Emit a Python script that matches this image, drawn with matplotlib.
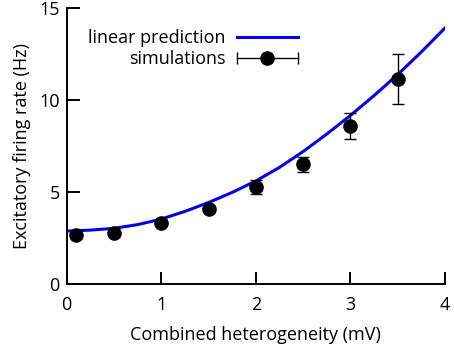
import matplotlib.pyplot as plt
from matplotlib.lines import Line2D
from matplotlib.legend_handler import HandlerLine2D

# Simulation points
sim_x = [0.1, 0.5, 1.0, 1.5, 2.0, 2.5, 3.0, 3.5]
sim_rate = [2.66, 2.81, 3.35, 4.08, 5.29, 6.52, 8.60, 11.16]
sim_err = [0.1, 0.1, 0.12, 0.15, 0.40, 0.41, 0.72, 1.38]

# Linear prediction curve
pred_x = [0.0, 0.25, 0.5, 0.75, 1.0, 1.25, 1.5, 1.75, 2.0, 2.25, 2.5, 2.75,
          3.0, 3.25, 3.5, 3.75, 4.0]
pred_rate = [2.90, 2.95, 3.05, 3.25, 3.55, 3.97, 4.45, 5.00, 5.62, 6.36, 7.22,
             8.17, 9.18, 10.26, 11.40, 12.63, 13.93]

plt.rcParams['font.family'] = ['Open Sans', 'DejaVu Sans']

fig = plt.figure(figsize=(4.54, 3.49), dpi=100)
ax = fig.add_axes([0.147, 0.185, 0.833, 0.791])

ax.plot(pred_x, pred_rate, color='#0000ee', lw=2.2, zorder=3)
ax.errorbar(sim_x, sim_rate, yerr=sim_err, fmt='o', color='black', ms=9.5,
            elinewidth=1, capsize=4.5, capthick=1, zorder=4)

ax.set_xlim(0, 4)
ax.set_ylim(0, 15)
ax.set_xticks([0, 1, 2, 3, 4])
ax.set_yticks([0, 5, 10, 15])
ax.spines['top'].set_visible(False)
ax.spines['right'].set_visible(False)
for s in ['left', 'bottom']:
    ax.spines[s].set_linewidth(1.4)
ax.tick_params(direction='in', length=9, width=1.4, labelsize=13)
ax.tick_params(axis='x', pad=8)
ax.tick_params(axis='y', pad=5)

ax.set_xlabel('Combined heterogeneity (mV)', fontsize=13, labelpad=9)
ax.set_ylabel('Excitatory firing rate (Hz)', fontsize=13, labelpad=6)

# Legend: gnuplot-style errorbar key (horizontal bar with end caps + dot)
pred_handle = Line2D([], [], color='#0000ee', lw=2.2)
bar_handle = Line2D([], [], color='black', lw=1, marker='|', ms=9, mew=1)
dot_handle = Line2D([], [], color='black', marker='o', ls='none', ms=9.5)
ax.legend([pred_handle, (bar_handle, dot_handle)],
          ['linear prediction', 'simulations'],
          handler_map={dot_handle: HandlerLine2D(numpoints=1),
                       bar_handle: HandlerLine2D(numpoints=2, marker_pad=0)},
          loc='upper left', bbox_to_anchor=(0.038, 0.95), frameon=False,
          markerfirst=False, fontsize=13, handlelength=3.4,
          labelspacing=0.15, handletextpad=0.6, borderaxespad=0)

plt.savefig('out.png', dpi=100)
